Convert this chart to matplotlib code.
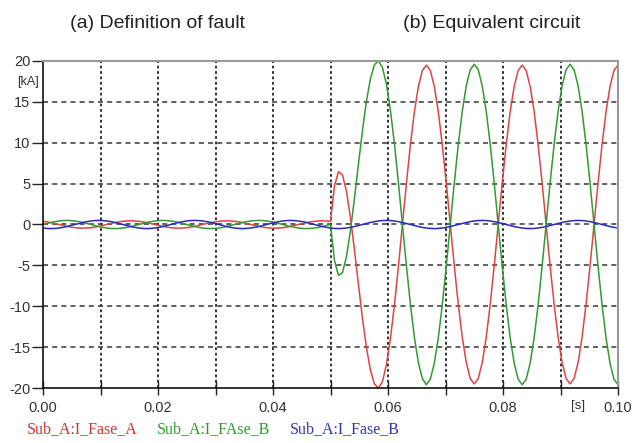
import numpy as np
import matplotlib
matplotlib.use("Agg")
import matplotlib.pyplot as plt

t_start, t_end, n_samples = 0.0, 0.1, 145

red_pre = [0.39, 0.32, 0.23, 0.12, 0.0, -0.12, -0.23, -0.32, -0.39, -0.43, -0.45, -0.43,
           -0.39, -0.32, -0.23, -0.12, 0.0, 0.12, 0.23, 0.32, 0.39, 0.43, 0.45, 0.43,
           0.39, 0.32, 0.23, 0.12, 0.0, -0.12, -0.23, -0.32, -0.39, -0.43, -0.45, -0.43,
           -0.39, -0.32, -0.23, -0.12, 0.0, 0.12, 0.23, 0.32, 0.39, 0.43, 0.45, 0.43,
           0.39, 0.32, 0.23, 0.12, 0.0, -0.12, -0.23, -0.32, -0.39, -0.43, -0.45, -0.43,
           -0.39, -0.32, -0.23, -0.12, 0.0, 0.12, 0.23, 0.32, 0.39, 0.43, 0.45, 0.43]
red_post = [0.39, 4.73, 6.46, 6.08, 4.05, 0.83, -3.12, -7.35, -11.46, -15.05, -17.82, -19.52,
            -20.01, -19.21, -17.17, -13.99, -9.90, -5.16, -0.08, 4.99, 9.71, 13.76, 16.87, 18.83,
            19.5, 18.84, 16.89, 13.79, 9.75, 5.05, 0.0, -5.05, -9.75, -13.79, -16.89, -18.84,
            -19.5, -18.84, -16.89, -13.79, -9.75, -5.05, 0.0, 5.05, 9.75, 13.79, 16.89, 18.84,
            19.5, 18.84, 16.89, 13.79, 9.75, 5.05, 0.0, -5.05, -9.75, -13.79, -16.89, -18.84,
            -19.5, -18.84, -16.89, -13.79, -9.75, -5.05, 0.0, 5.05, 9.75, 13.79, 16.89, 18.84,
            19.5]

green_pre = [0.0, 0.13, 0.25, 0.35, 0.43, 0.48, 0.5, 0.48, 0.43, 0.35, 0.25, 0.13,
             0.0, -0.13, -0.25, -0.35, -0.43, -0.48, -0.5, -0.48, -0.43, -0.35, -0.25, -0.13,
             0.0, 0.13, 0.25, 0.35, 0.43, 0.48, 0.5, 0.48, 0.43, 0.35, 0.25, 0.13,
             0.0, -0.13, -0.25, -0.35, -0.43, -0.48, -0.5, -0.48, -0.43, -0.35, -0.25, -0.13,
             0.0, 0.13, 0.25, 0.35, 0.43, 0.48, 0.5, 0.48, 0.43, 0.35, 0.25, 0.13,
             0.0, -0.13, -0.25, -0.35, -0.43, -0.48, -0.5, -0.48, -0.43, -0.35, -0.25, -0.13]
green_post = [0.0, -4.42, -6.23, -5.90, -3.92, -0.74, 3.19, 7.40, 11.49, 15.08, 17.84, 19.54,
              20.02, 19.22, 17.17, 14.00, 9.91, 5.16, 0.08, -4.99, -9.71, -13.76, -16.87, -18.83,
              -19.6, -18.93, -16.97, -13.86, -9.8, -5.07, 0.0, 5.07, 9.8, 13.86, 16.97, 18.93,
              19.6, 18.93, 16.97, 13.86, 9.8, 5.07, 0.0, -5.07, -9.8, -13.86, -16.97, -18.93,
              -19.6, -18.93, -16.97, -13.86, -9.8, -5.07, 0.0, 5.07, 9.8, 13.86, 16.97, 18.93,
              19.6, 18.93, 16.97, 13.86, 9.8, 5.07, 0.0, -5.07, -9.8, -13.86, -16.97, -18.93,
              -19.6]

blue_all = [-0.43, -0.48, -0.5, -0.48, -0.43, -0.35, -0.25, -0.13, 0.0, 0.13, 0.25, 0.35,
            0.43, 0.48, 0.5, 0.48, 0.43, 0.35, 0.25, 0.13, 0.0, -0.13, -0.25, -0.35,
            -0.43, -0.48, -0.5, -0.48, -0.43, -0.35, -0.25, -0.13, 0.0, 0.13, 0.25, 0.35,
            0.43, 0.48, 0.5, 0.48, 0.43, 0.35, 0.25, 0.13, 0.0, -0.13, -0.25, -0.35,
            -0.43, -0.48, -0.5, -0.48, -0.43, -0.35, -0.25, -0.13, 0.0, 0.13, 0.25, 0.35,
            0.43, 0.48, 0.5, 0.48, 0.43, 0.35, 0.25, 0.13, 0.0, -0.13, -0.25, -0.35,
            -0.43, -0.48, -0.5, -0.48, -0.43, -0.35, -0.25, -0.13, 0.0, 0.13, 0.25, 0.35,
            0.43, 0.48, 0.5, 0.48, 0.43, 0.35, 0.25, 0.13, 0.0, -0.13, -0.25, -0.35,
            -0.43, -0.48, -0.5, -0.48, -0.43, -0.35, -0.25, -0.13, 0.0, 0.13, 0.25, 0.35,
            0.43, 0.48, 0.5, 0.48, 0.43, 0.35, 0.25, 0.13, 0.0, -0.13, -0.25, -0.35,
            -0.43, -0.48, -0.5, -0.48, -0.43, -0.35, -0.25, -0.13, 0.0, 0.13, 0.25, 0.35,
            0.43, 0.48, 0.5, 0.48, 0.43, 0.35, 0.25, 0.13, 0.0, -0.13, -0.25, -0.35,
            -0.43]

series_names = ["Sub_A:I_Fase_A", "Sub_A:I_FAse_B", "Sub_A:I_Fase_B"]
series_colors = ["#dd4444", "#339933", "#2828c8"]
text_colors = ["#cc3333", "#339933", "#3333aa"]
x_tick_values = [0.00, 0.01, 0.02, 0.03, 0.04, 0.05, 0.06, 0.07, 0.08, 0.09, 0.10]
x_ticklabels = ["0.00", "", "0.02", "", "0.04", "", "0.06", "", "0.08", "", "0.10"]
y_ticks = [-20, -15, -10, -5, 0, 5, 10, 15, 20]
titles = ["(a) Definition of fault", "(b) Equivalent circuit"]

# ---- figure ----
W, H, DPI = 633, 443, 100
fig = plt.figure(figsize=(W / DPI, H / DPI), dpi=DPI, facecolor="white")
ax = fig.add_axes([43 / W, 1 - 388 / H, (618 - 43) / W, (388 - 61) / H])

t = np.linspace(t_start, t_end, n_samples)
red = np.array(red_pre + red_post)
green = np.array(green_pre + green_post)
blue = np.array(blue_all)

for y, c in zip([red, green, blue], series_colors):
    ax.plot(t, y, color=c, lw=1.1, solid_joinstyle="round")

ax.set_xlim(0, 0.1)
ax.set_ylim(-20, 20)

# grid
for xv in x_tick_values[1:-1]:
    ax.axvline(xv, color="#222222", lw=1.3, ls=(0, (1.5, 1.5)), zorder=0.5)
for yv in y_ticks[1:-1]:
    ax.axhline(yv, color="#444444", lw=1.2, ls=(0, (3, 2.5)), zorder=0.5)

ax.set_xticks(x_tick_values)
ax.set_xticklabels(x_ticklabels)
ax.set_yticks(y_ticks)
ax.set_yticklabels([str(v) for v in y_ticks])
ax.tick_params(axis="x", direction="inout", length=10, width=1, colors="#222222",
               labelsize=10.5, labelcolor="#333333", pad=4)
ax.tick_params(axis="y", direction="out", length=8, width=1, colors="#222222",
               labelsize=10.5, labelcolor="#333333", pad=1)
for lab in ax.get_xticklabels() + ax.get_yticklabels():
    lab.set_fontfamily("Liberation Sans")

for s in ["left", "bottom"]:
    ax.spines[s].set_color("#111111")
    ax.spines[s].set_linewidth(1.2)
for s in ["top", "right"]:
    ax.spines[s].set_color("#999999")
    ax.spines[s].set_linewidth(1.5)

fig.text(17 / W, 1 - 82 / H, "[kA]", fontsize=9, color="#333333",
         family="Liberation Sans", va="center", ha="left")
fig.text(578 / W, 1 - 406 / H, "[s]", fontsize=9.5, color="#333333",
         family="Liberation Sans", va="center", ha="center")

fig.text(158 / W, 1 - 23 / H, titles[0], fontsize=14, color="#222222",
         family="Liberation Sans", ha="center", va="center")
fig.text(492 / W, 1 - 23 / H, titles[1], fontsize=14, color="#222222",
         family="Liberation Sans", ha="center", va="center")

leg_x = [27, 157, 290]
for name, c, xp in zip(series_names, text_colors, leg_x):
    fig.text(xp / W, 1 - 429 / H, name, fontsize=11.5, color=c,
             family="Liberation Serif", ha="left", va="center")

fig.savefig("out.png", dpi=DPI, facecolor="white")
